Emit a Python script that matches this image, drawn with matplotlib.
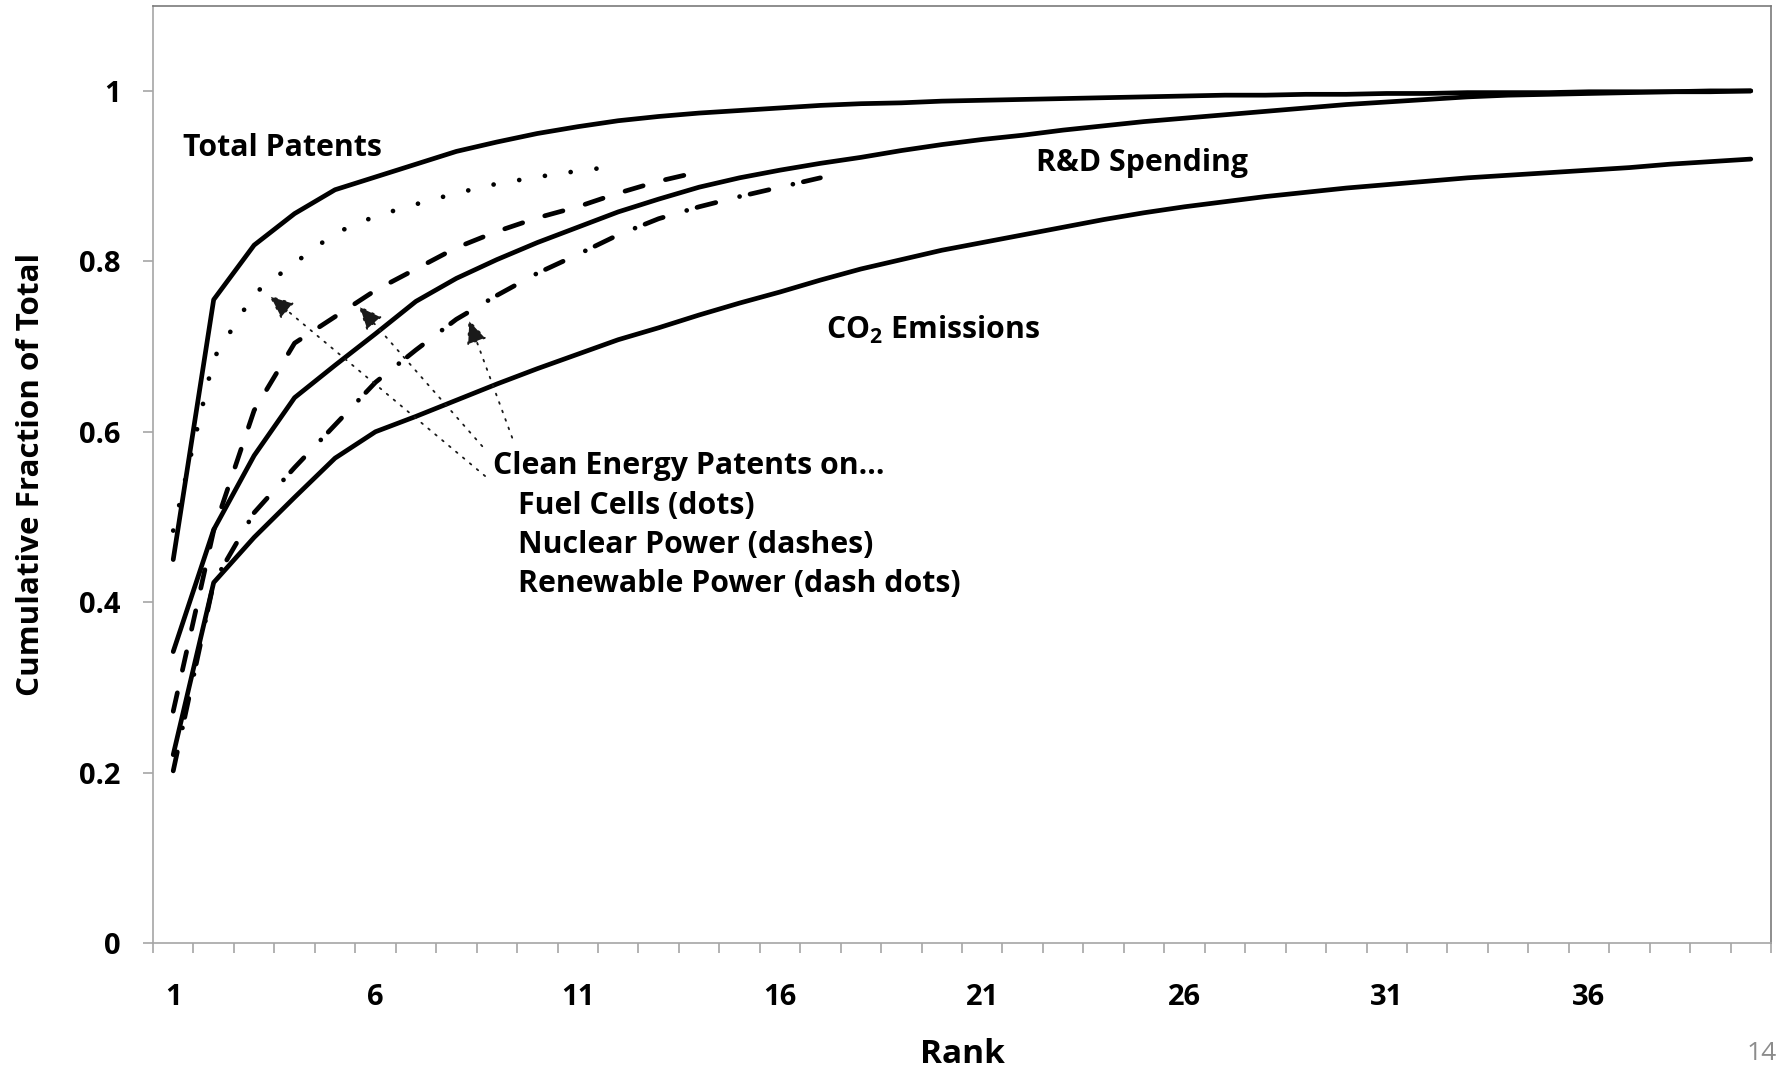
import numpy as np
import matplotlib
matplotlib.use("Agg")
import matplotlib.pyplot as plt

plt.rcParams['font.family'] = ['Open Sans', 'DejaVu Sans']
plt.rcParams['mathtext.fontset'] = 'custom'
plt.rcParams['mathtext.rm'] = 'Open Sans'
plt.rcParams['mathtext.bf'] = 'Open Sans:bold'

# ---------------- data ----------------
rank = list(range(1, 41))
total_patents = [0.450, 0.755, 0.819, 0.856, 0.884, 0.899, 0.914, 0.929, 0.940, 0.950,
                 0.958, 0.965, 0.970, 0.974, 0.977, 0.980, 0.983, 0.985, 0.986, 0.988,
                 0.989, 0.990, 0.991, 0.992, 0.993, 0.994, 0.995, 0.995, 0.996, 0.996,
                 0.997, 0.997, 0.998, 0.998, 0.998, 0.999, 0.999, 0.999, 1.000, 1.000]
rd_spending = [0.342, 0.485, 0.572, 0.640, 0.678, 0.715, 0.753, 0.780, 0.802, 0.822,
               0.840, 0.858, 0.873, 0.887, 0.898, 0.907, 0.915, 0.922, 0.930, 0.937,
               0.943, 0.948, 0.954, 0.959, 0.964, 0.968, 0.972, 0.976, 0.980, 0.984,
               0.987, 0.990, 0.993, 0.995, 0.996, 0.997, 0.998, 0.999, 0.999, 1.000]
co2_emissions = [0.221, 0.423, 0.476, 0.523, 0.569, 0.600, 0.618, 0.637, 0.656, 0.674,
                 0.691, 0.708, 0.722, 0.737, 0.751, 0.764, 0.778, 0.791, 0.802, 0.813,
                 0.822, 0.831, 0.840, 0.849, 0.857, 0.864, 0.870, 0.876, 0.881, 0.886,
                 0.890, 0.894, 0.898, 0.901, 0.904, 0.907, 0.910, 0.914, 0.917, 0.920]
fuel_cells = [0.484, 0.686, 0.762, 0.798, 0.833, 0.853, 0.867, 0.880, 0.891, 0.899,
              0.906, 0.912]
nuclear_power = [0.272, 0.484, 0.625, 0.704, 0.735, 0.766, 0.791, 0.816, 0.835, 0.851,
                 0.864, 0.880, 0.894, 0.905]
renewable_power = [0.202, 0.423, 0.505, 0.558, 0.608, 0.658, 0.696, 0.732, 0.760, 0.786,
                   0.808, 0.831, 0.850, 0.864, 0.876, 0.887, 0.898]

x_tick_values = [1, 6, 11, 16, 21, 26, 31, 36]
x_tick_labels = ['1', '6', '11', '16', '21', '26', '31', '36']
y_tick_values = [0, 0.2, 0.4, 0.6, 0.8, 1.0]
y_tick_labels = ['0', '0.2', '0.4', '0.6', '0.8', '1']

# ---------------- figure ----------------
W, H = 1779, 1074
fig = plt.figure(figsize=(W / 100, H / 100), dpi=100)
ax = fig.add_axes([153 / W, 1 - 943 / H, (1771 - 153) / W, (943 - 5.7) / H])

LW = 3.4
common = dict(color='black', lw=LW, solid_capstyle='round', solid_joinstyle='round',
              dash_capstyle='round', dash_joinstyle='round')

ax.plot(rank, total_patents, ls='-', **common)
ax.plot(rank, rd_spending, ls='-', **common)
ax.plot(rank, co2_emissions, ls='-', **common)
ax.plot(rank[:len(fuel_cells)], fuel_cells, ls=(0, (0.01, 5.5)), **common)
ax.plot(rank[:len(nuclear_power)], nuclear_power, ls=(0, (4.0, 4.9)), **common)
ax.plot(rank[:len(renewable_power)], renewable_power,
        ls=(0, (4.1, 5.2, 0.01, 2.27)), **common)

ax.set_xlim(0.5, 40.5)
ax.set_ylim(0, 1.1)

ax.set_xticks(x_tick_values)
ax.set_xticklabels(x_tick_labels, fontweight='bold', fontsize=21)
ax.set_xticks(np.arange(0.5, 41, 1), minor=True)
ax.set_yticks(y_tick_values)
ax.set_yticklabels(y_tick_labels, fontweight='bold', fontsize=21)

axis_grey = '#a6a6a6'
ax.tick_params(axis='x', which='major', length=0, pad=29)
ax.tick_params(axis='x', which='minor', length=7.2, width=1.2, color=axis_grey, direction='out')
ax.tick_params(axis='y', which='major', length=7.2, width=1.2, color=axis_grey,
               direction='out', pad=16)
ax.tick_params(axis='y', which='minor', length=0)

for s in ['left', 'bottom']:
    ax.spines[s].set_color(axis_grey)
    ax.spines[s].set_linewidth(1.2)
for s in ['top', 'right']:
    ax.spines[s].set_color('#7a7a7a')
    ax.spines[s].set_linewidth(1.2)

# axis titles
fig.text(30.6 / W, 1 - 474 / H, 'Cumulative Fraction of Total', rotation=90,
         ha='center', va='center', fontsize=22.6, fontweight='bold')
fig.text(962 / W, 1 - 1063 / H, 'Rank', ha='center', va='baseline',
         fontsize=24, fontweight='bold')
fig.text(1777 / W, 1 - 1060 / H, '14', ha='right', va='baseline',
         fontsize=19, color='#8c8c8c')

# annotations
fs = 21.8
ax.text(1.23, 0.924, 'Total Patents', fontsize=fs, fontweight='bold', va='baseline')
ax.text(22.33, 0.906, 'R&D Spending', fontsize=fs, fontweight='bold', va='baseline')
ax.text(17.15, 0.709, r'CO$_\mathbf{2}$ Emissions', fontsize=fs, fontweight='bold',
        va='baseline')
ax.text(8.91, 0.550, 'Clean Energy Patents on...', fontsize=fs, fontweight='bold',
        va='baseline')
ax.text(9.52, 0.504, 'Fuel Cells (dots)', fontsize=fs, fontweight='bold', va='baseline')
ax.text(9.52, 0.4576, 'Nuclear Power (dashes)', fontsize=fs, fontweight='bold',
        va='baseline')
ax.text(9.52, 0.4123, 'Renewable Power (dash dots)', fontsize=fs, fontweight='bold',
        va='baseline')

arrow_tails = [(8.71, 0.548), (8.64, 0.583), (9.38, 0.593)]
arrow_tips = [(3.37, 0.760), (5.58, 0.748), (8.30, 0.732)]
for tail, tip in zip(arrow_tails, arrow_tips):
    ax.annotate('', xy=tip, xytext=tail,
                arrowprops=dict(arrowstyle='-|>,head_length=0.75,head_width=0.32',
                                color='#1a1a1a', lw=1.3, ls=(0, (1, 4)),
                                shrinkA=0, shrinkB=0, mutation_scale=20))

fig.savefig('out.png', dpi=100)
